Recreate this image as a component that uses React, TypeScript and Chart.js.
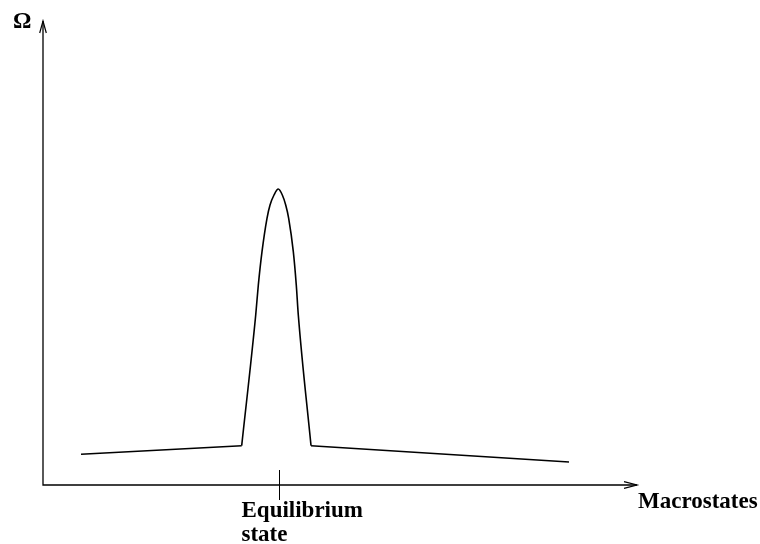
import React, { useEffect, useRef } from "react";
import { Chart, registerables } from "chart.js";

Chart.register(...registerables);

// Macrostate axis positions (arbitrary units 0..100) and multiplicity Ω (0..100)
const leftTailX = [6.4, 33.45];
const leftTailY = [6.62, 8.47];
const peakX = [33.45, 35.81, 36.25, 36.87, 37.71, 38.22, 38.89, 39.61, 40.29, 40.86, 41.36, 42.14, 42.64, 42.98, 45.12];
const peakY = [8.47, 36.64, 43.1, 50.28, 57.48, 60.34, 62.5, 63.79, 62.5, 60.34, 57.48, 50.28, 43.1, 36.64, 8.47];
const rightTailX = [45.12, 88.55];
const rightTailY = [8.47, 4.96];

const equilibriumX = 39.73;
const yAxisLabel = "Ω";
const xAxisLabel = "Macrostates";
const tickLabelLines = ["Equilibrium", "state"];

const FONT = "bold 23px 'Liberation Serif', serif";

const toPoints = (xs: number[], ys: number[]) => xs.map((x, i) => ({ x, y: ys[i] }));

const axesPlugin = {
  id: "customAxes",
  afterDraw(chart: any) {
    const ctx = chart.ctx as CanvasRenderingContext2D;
    const { left, right, top, bottom } = chart.chartArea;
    const xs = chart.scales.x;
    ctx.save();
    ctx.strokeStyle = "#000";
    ctx.lineWidth = 1.3;
    // axes
    ctx.beginPath();
    ctx.moveTo(left, top);
    ctx.lineTo(left, bottom);
    ctx.lineTo(right, bottom);
    ctx.stroke();
    // arrowheads
    ctx.lineWidth = 1.2;
    ctx.beginPath();
    ctx.moveTo(left - 3.3, top + 12);
    ctx.lineTo(left, top);
    ctx.lineTo(left + 3.3, top + 12);
    ctx.moveTo(right - 13, bottom - 3.3);
    ctx.lineTo(right, bottom);
    ctx.lineTo(right - 13, bottom + 3.3);
    ctx.stroke();
    // equilibrium tick
    const tx = Math.round(xs.getPixelForValue(equilibriumX)) + 0.5;
    ctx.lineWidth = 1;
    ctx.beginPath();
    ctx.moveTo(tx, bottom - 15);
    ctx.lineTo(tx, bottom + 15);
    ctx.stroke();
    // texts
    ctx.fillStyle = "#000";
    ctx.font = FONT;
    ctx.textAlign = "left";
    ctx.textBaseline = "alphabetic";
    ctx.fillText(yAxisLabel, left - 30, top + 7);
    ctx.fillText(xAxisLabel, right + 1, bottom + 23);
    ctx.fillText(tickLabelLines[0], tx - 38, bottom + 32);
    ctx.fillText(tickLabelLines[1], tx - 38, bottom + 56);
    ctx.restore();
  },
};

export default function App() {
  const ref = useRef<HTMLCanvasElement | null>(null);
  useEffect(() => {
    if (!ref.current) return;
    const common = {
      borderColor: "#000",
      borderWidth: 1.6,
      pointRadius: 0,
      fill: false,
    };
    const chart = new Chart(ref.current, {
      type: "line",
      data: {
        datasets: [
          { ...common, data: toPoints(leftTailX, leftTailY), tension: 0 },
          { ...common, data: toPoints(peakX, peakY), cubicInterpolationMode: "monotone" },
          { ...common, data: toPoints(rightTailX, rightTailY), tension: 0 },
        ] as any,
      },
      options: {
        animation: false,
        responsive: false,
        devicePixelRatio: 1,
        layout: { padding: { left: 43, right: 123, top: 21, bottom: 59 } },
        plugins: { legend: { display: false }, tooltip: { enabled: false } },
        scales: {
          x: { type: "linear", min: 0, max: 100, display: false },
          y: { type: "linear", min: 0, max: 100, display: false },
        },
      },
      plugins: [axesPlugin],
    });
    return () => chart.destroy();
  }, []);
  return (
    <div style={{ position: "fixed", left: 0, top: 0, width: 760, height: 544, background: "#fff" }}>
      <canvas ref={ref} width={760} height={544} style={{ display: "block" }} />
    </div>
  );
}
